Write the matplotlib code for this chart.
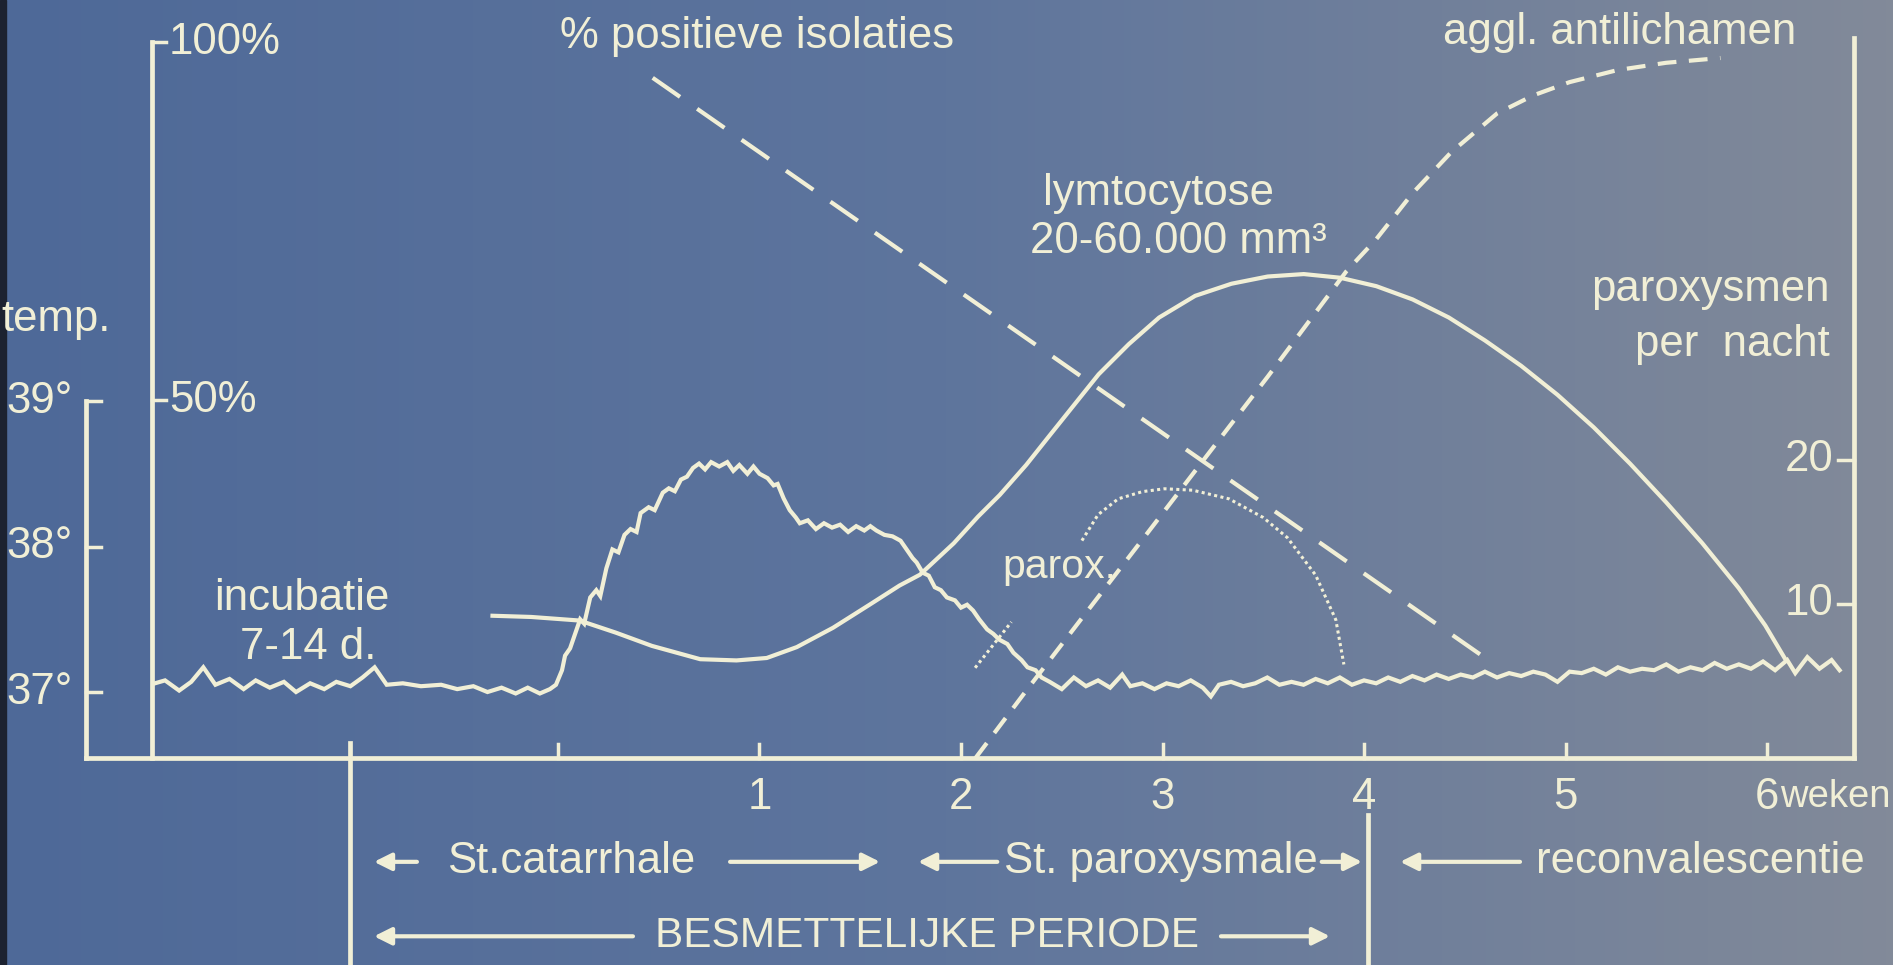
import numpy as np
import matplotlib
matplotlib.use("Agg")
import matplotlib.pyplot as plt
from matplotlib.patches import Rectangle

# ---------------- data ----------------
# x unit: weeks after onset of the catarrhal stage
week_ticks = [0, 1, 2, 3, 4, 5, 6]
week_labels = ["", "1", "2", "3", "4", "5", "6"]

# temperature (degrees C)
temp_w = [-2.0, -1.95, -1.88, -1.82, -1.76, -1.70, -1.63, -1.56, -1.50, -1.43,
          -1.36, -1.30, -1.23, -1.16, -1.10, -1.03, -0.97, -0.91, -0.85, -0.77,
          -0.68, -0.58, -0.50, -0.42, -0.35, -0.28, -0.21, -0.15, -0.09, -0.04,
          -0.01, 0.02, 0.035, 0.06, 0.09, 0.11, 0.13, 0.16, 0.19, 0.21,
          0.24, 0.27, 0.30, 0.33, 0.36, 0.39, 0.41, 0.45, 0.48, 0.52,
          0.55, 0.58, 0.61, 0.64, 0.67, 0.70, 0.73, 0.76, 0.80, 0.84,
          0.87, 0.90, 0.94, 0.97, 1.00, 1.04, 1.07, 1.09, 1.12, 1.15,
          1.18, 1.20, 1.24, 1.28, 1.32, 1.36, 1.40, 1.44, 1.48, 1.52,
          1.55, 1.58, 1.62, 1.66, 1.70, 1.73, 1.76, 1.78, 1.81, 1.84,
          1.87, 1.90, 1.93, 1.97, 2.00, 2.03, 2.06, 2.09, 2.13, 2.16,
          2.19, 2.23, 2.26, 2.30, 2.33, 2.37, 2.40, 2.44,
          2.50, 2.56, 2.62, 2.68, 2.74, 2.80, 2.84, 2.90, 2.96, 3.02,
          3.08, 3.14, 3.20, 3.24, 3.28, 3.34, 3.40, 3.46, 3.52, 3.58,
          3.64, 3.70, 3.76, 3.82, 3.88, 3.94, 4.00, 4.06, 4.12, 4.18,
          4.24, 4.30, 4.36, 4.42, 4.48, 4.54, 4.60, 4.66, 4.72, 4.78,
          4.84, 4.90, 4.96, 5.02, 5.08, 5.14, 5.20, 5.26, 5.32, 5.38,
          5.44, 5.50, 5.56, 5.62, 5.68, 5.74, 5.80, 5.86, 5.92, 5.98,
          6.04, 6.10, 6.14, 6.20, 6.26, 6.32, 6.36]
temp_c = [37.06, 37.08, 37.01, 37.07, 37.17, 37.05, 37.09, 37.02, 37.08, 37.03,
          37.07, 37.00, 37.06, 37.02, 37.07, 37.04, 37.10, 37.17, 37.05, 37.06,
          37.04, 37.05, 37.02, 37.04, 37.00, 37.03, 36.99, 37.03, 36.99, 37.02,
          37.05, 37.15, 37.25, 37.30, 37.42, 37.50, 37.47, 37.65, 37.70, 37.66,
          37.85, 37.98, 37.96, 38.08, 38.12, 38.10, 38.23, 38.27, 38.25, 38.37,
          38.40, 38.38, 38.46, 38.48, 38.54, 38.57, 38.53, 38.58, 38.55, 38.58,
          38.52, 38.56, 38.50, 38.55, 38.50, 38.47, 38.42, 38.43, 38.33, 38.25,
          38.20, 38.16, 38.18, 38.12, 38.16, 38.13, 38.15, 38.10, 38.14, 38.11,
          38.14, 38.11, 38.08, 38.07, 38.04, 37.98, 37.92, 37.89, 37.82, 37.80,
          37.72, 37.70, 37.65, 37.63, 37.58, 37.60, 37.56, 37.50, 37.43, 37.40,
          37.36, 37.33, 37.27, 37.22, 37.17, 37.15, 37.10, 37.07,
          37.02, 37.10, 37.04, 37.08, 37.03, 37.12, 37.04, 37.06, 37.02, 37.06,
          37.04, 37.08, 37.03, 36.97, 37.05, 37.07, 37.04, 37.06, 37.10, 37.05,
          37.07, 37.05, 37.09, 37.06, 37.10, 37.05, 37.08, 37.06, 37.10, 37.07,
          37.11, 37.08, 37.12, 37.09, 37.12, 37.10, 37.14, 37.10, 37.13, 37.11,
          37.14, 37.12, 37.07, 37.14, 37.13, 37.16, 37.12, 37.17, 37.14, 37.16,
          37.15, 37.19, 37.14, 37.17, 37.15, 37.20, 37.16, 37.19, 37.16, 37.21,
          37.15, 37.22, 37.13, 37.24, 37.16, 37.22, 37.15]
temp_ticks = [37, 38, 39]
temp_labels = ["37°", "38°", "39°"]
temp_axis_bottom = 36.546   # temperature at the base line

# lymphocytosis (relative height, percent scale)
lymph_w = [-0.325, -0.133, 0.107, 0.287, 0.466, 0.706, 0.886, 1.036, 1.185, 1.365,
           1.545, 1.695, 1.796, 1.964, 2.084, 2.192, 2.324, 2.443, 2.563, 2.683,
           2.833, 2.983, 3.162, 3.342, 3.522, 3.701, 3.881, 4.061, 4.241, 4.421,
           4.600, 4.780, 4.960, 5.140, 5.320, 5.499, 5.679, 5.859, 5.991, 6.087]
lymph_v = [19.87, 19.70, 19.20, 17.51, 15.66, 13.80, 13.63, 13.97, 15.49, 18.19,
           21.39, 24.09, 25.60, 29.99, 33.70, 36.73, 40.95, 45.16, 49.38, 53.59,
           57.81, 61.52, 64.55, 66.24, 67.25, 67.59, 67.08, 65.90, 64.05, 61.52,
           58.32, 54.77, 50.73, 46.18, 41.12, 35.72, 29.99, 23.75, 18.52, 13.97]

# % positive isolations (straight dashed line)
isol_w = [0.47, 4.59]
isol_v = [95.0, 14.2]

# agglutinating antibodies (percent scale)
aggl_w = [2.072, 2.324, 2.623, 2.923, 3.222, 3.522, 3.732, 3.911, 4.061, 4.241,
          4.433, 4.660, 4.840, 5.020, 5.259, 5.499, 5.769]
aggl_v = [0.0, 9.42, 20.38, 31.34, 42.30, 53.26, 61.18, 67.93, 72.48, 78.89,
          84.62, 90.02, 92.55, 94.40, 96.09, 97.10, 97.77]

# paroxysms per night (right axis)
parox_w = [2.60, 2.68, 2.78, 2.90, 3.01, 3.15, 3.33, 3.50, 3.62, 3.76, 3.86, 3.90]
parox_v = [14.4, 16.2, 17.3, 17.8, 18.0, 17.9, 17.3, 16.0, 14.6, 12.0, 8.9, 5.8]
parox_ticks = [10, 20]

pct_ticks = [50, 100]
pct_labels = ["50%", "100%"]

# ---------------- style ----------------
INK = "#f1efd6"
FONT = ["Liberation Sans", "DejaVu Sans"]
FS = 31.5
plt.rcParams["font.family"] = FONT

fig = plt.figure(figsize=(18.93, 9.65), dpi=100)

# background gradient (blue -> grey-blue)
bg = fig.add_axes([0, 0, 1, 1])
grad_x = np.linspace(0, 1, 256)
c_left = np.array([78, 105, 152]) / 255
c_mid = np.array([94, 117, 157]) / 255
c_right = np.array([130, 138, 153]) / 255
cols = np.where(grad_x[:, None] < 0.5,
                c_left + (c_mid - c_left) * (grad_x[:, None] / 0.5),
                c_mid + (c_right - c_mid) * ((grad_x[:, None] - 0.5) / 0.5))
bg.imshow(cols[None, :, :], aspect="auto", extent=[0, 1, 0, 1])
bg.add_patch(Rectangle((0, 0), 0.003, 1, color="#1c2230"))
bg.set_xlim(0, 1); bg.set_ylim(0, 1)
bg.axis("off")

XLIM = (-2.769, 6.625)
ax = fig.add_axes([0, 0, 1, 1])          # percent scale
ax.set_xlim(*XLIM); ax.set_ylim(-28.91, 105.87)
ax.patch.set_alpha(0); ax.axis("off")

axt = fig.add_axes([0, 0, 1, 1], sharex=ax)   # temperature scale
axt.set_ylim(35.124, 41.756)
axt.patch.set_alpha(0); axt.axis("off")

axp = fig.add_axes([0, 0, 1, 1], sharex=ax)   # paroxysm scale
axp.set_ylim(-15.07, 51.94)
axp.patch.set_alpha(0); axp.axis("off")

LW = 3.0
AXW = 3.4

# ---- axes frames ----
X_TEMP, X_PCT, X_RIGHT = -2.34, -2.015, 6.43
ax.plot([X_TEMP, X_RIGHT], [0, 0], color=INK, lw=AXW, solid_capstyle="projecting")
axt.plot([X_TEMP, X_TEMP], [temp_axis_bottom, temp_ticks[-1]], color=INK, lw=AXW,
         solid_capstyle="projecting")
ax.plot([X_PCT, X_PCT], [0, pct_ticks[-1]], color=INK, lw=AXW)
ax.plot([X_RIGHT, X_RIGHT], [0, 100.6], color=INK, lw=AXW, solid_capstyle="projecting")

for t, lab in zip(temp_ticks, temp_labels):
    axt.plot([X_TEMP, X_TEMP + 0.07], [t, t], color=INK, lw=2.5)
    axt.text(X_TEMP - 0.07, t, lab, color=INK, fontsize=FS, ha="right", va="center")
axt.text(-2.76, 39.56, "temp.", color=INK, fontsize=FS, ha="left", va="center")

for p, lab in zip(pct_ticks, pct_labels):
    ax.plot([X_PCT, X_PCT + 0.07], [p, p], color=INK, lw=2.5)
    ax.text(X_PCT + 0.085, p, lab, color=INK, fontsize=FS, ha="left", va="center")

for p in parox_ticks:
    axp.plot([X_RIGHT - 0.08, X_RIGHT], [p, p], color=INK, lw=2.5)
    axp.text(X_RIGHT - 0.1, p, str(p), color=INK, fontsize=FS, ha="right", va="center")

for w, lab in zip(week_ticks, week_labels):
    ax.plot([w, w], [0, 2.0], color=INK, lw=2.5)
    if lab:
        ax.text(w, -5.5, lab, color=INK, fontsize=FS, ha="center", va="center")
ax.text(6.065, -5.5, "weken", color=INK, fontsize=FS - 4, ha="left", va="center")

# ---- curves ----
axt.plot(temp_w, temp_c, color=INK, lw=LW, solid_joinstyle="miter")
ax.plot(lymph_w, lymph_v, color=INK, lw=LW, solid_joinstyle="round")
ax.plot(isol_w, isol_v, color=INK, lw=LW, dashes=(8, 5))
ax.plot(aggl_w, aggl_v, color=INK, lw=LW, dashes=(4.5, 3))
axp.plot(parox_w, parox_v, color=INK, lw=2.2, dashes=(1.0, 1.1))

# parox. leader
ax.plot([2.07, 2.25], [12.6, 19.0], color=INK, lw=2.2, dashes=(1.0, 1.1))

# ---- labels ----
ax.text(0.99, 100.8, "% positieve isolaties", color=INK, fontsize=FS, ha="center", va="center")
ax.text(5.27, 101.4, "aggl. antilichamen", color=INK, fontsize=FS, ha="center", va="center")
ax.text(2.98, 78.9, "lymtocytose", color=INK, fontsize=FS, ha="center", va="center")
ax.text(3.08, 72.2, "20-60.000 mm³", color=INK, fontsize=FS, ha="center", va="center")
ax.text(6.31, 65.4, "paroxysmen", color=INK, fontsize=FS, ha="right", va="center")
ax.text(6.31, 57.8, "per  nacht", color=INK, fontsize=FS, ha="right", va="center")
ax.text(-1.27, 22.3, "incubatie", color=INK, fontsize=FS, ha="center", va="center")
ax.text(-1.24, 15.4, "7-14 d.", color=INK, fontsize=FS, ha="center", va="center")
ax.text(2.49, 26.7, "parox.", color=INK, fontsize=FS - 2, ha="center", va="center")

# ---- stage rows ----
ax.plot([-1.03, -1.03], [2.1, -29], color=INK, lw=AXW)
ax.plot([4.02, 4.02], [-8.0, -29], color=INK, lw=AXW)

def arrow(x0, x1, y):
    ax.annotate("", xy=(x1, y), xytext=(x0, y),
                arrowprops=dict(arrowstyle="-|>", color=INK, lw=3,
                                mutation_scale=26, shrinkA=0, shrinkB=0))

ROW2, ROW3 = -14.5, -24.9
arrow(-0.70, -0.913, ROW2)
ax.text(0.065, ROW2, "St.catarrhale", color=INK, fontsize=FS, ha="center", va="center")
arrow(0.854, 1.598, ROW2)
arrow(2.18, 1.787, ROW2)
ax.text(2.99, ROW2, "St. paroxysmale", color=INK, fontsize=FS, ha="center", va="center")
arrow(3.79, 3.99, ROW2)
arrow(4.774, 4.179, ROW2)
ax.text(5.668, ROW2, "reconvalescentie", color=INK, fontsize=FS, ha="center", va="center")

arrow(0.372, -0.913, ROW3)
ax.text(1.83, ROW3, "BESMETTELIJKE PERIODE", color=INK, fontsize=FS - 1, ha="center", va="center")
arrow(3.29, 3.831, ROW3)

fig.savefig("out.png", dpi=100)
